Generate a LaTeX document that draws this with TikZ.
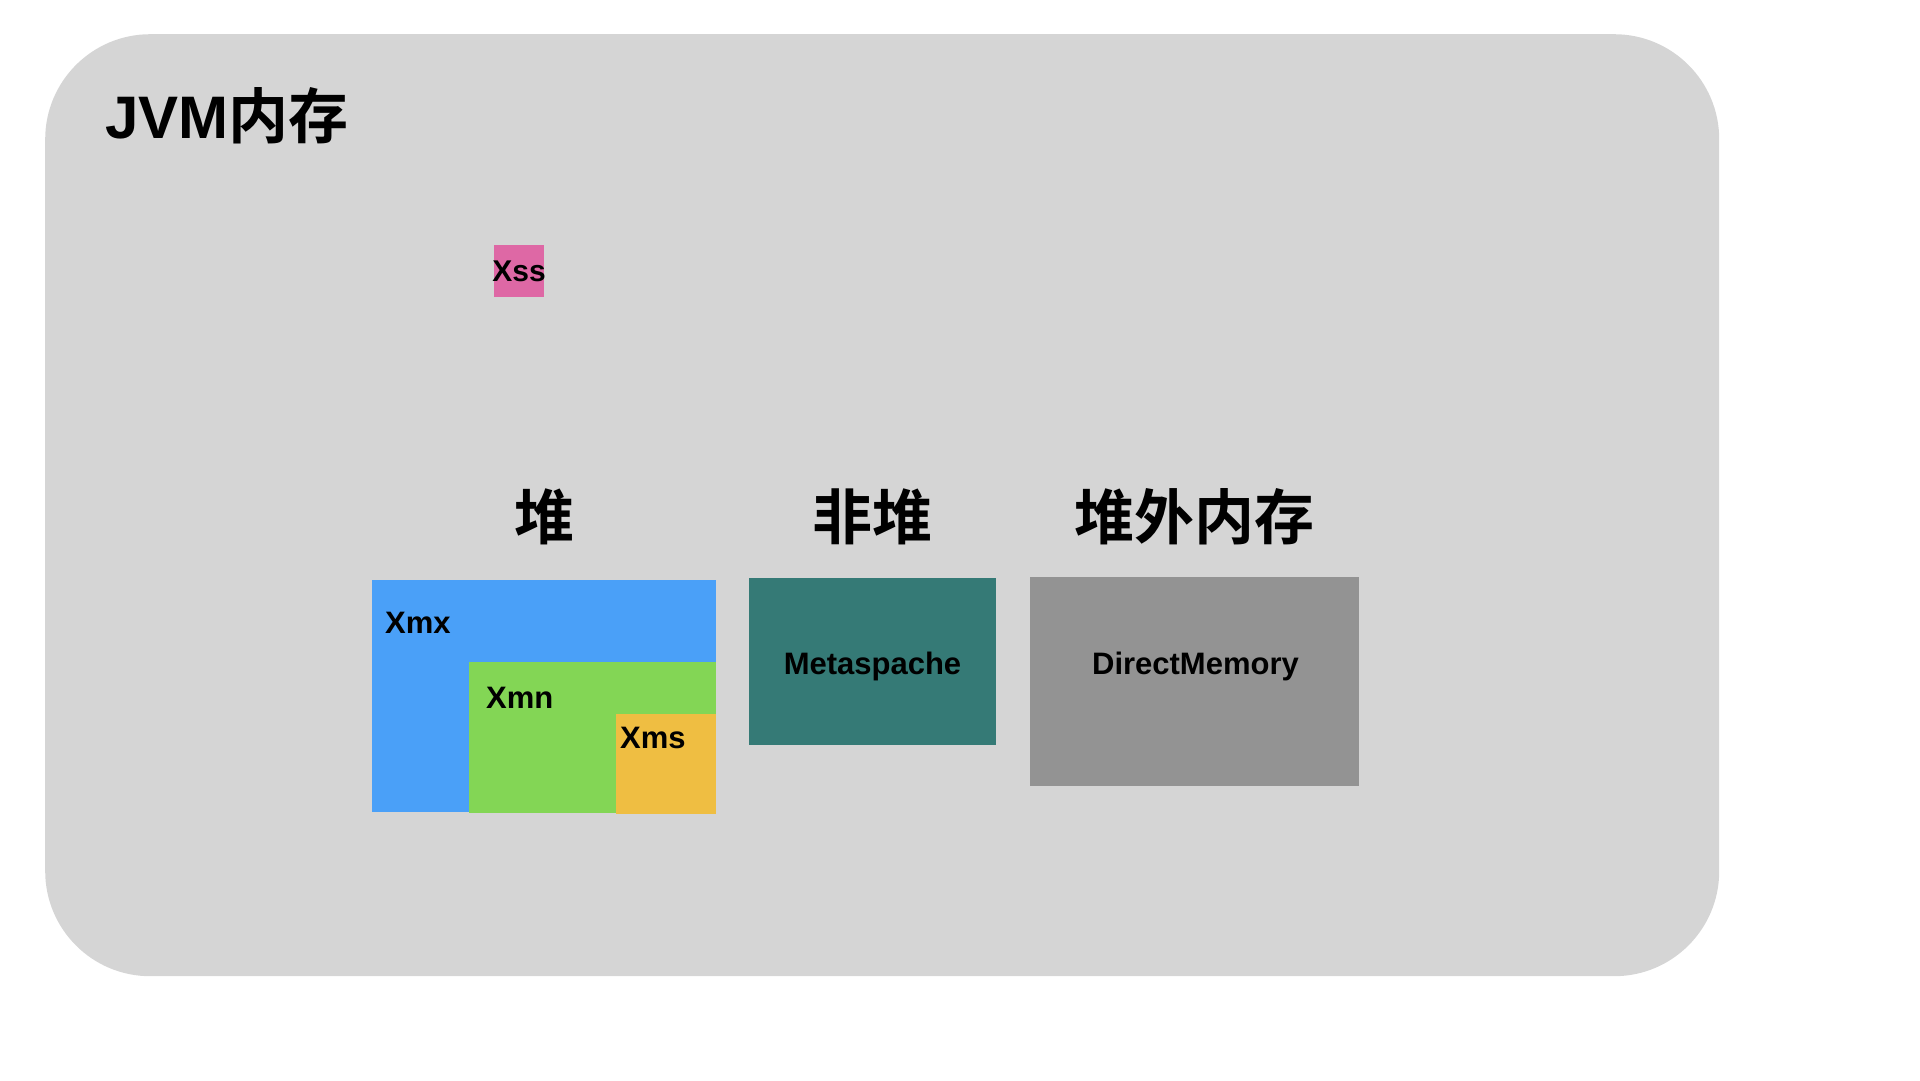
\documentclass[tikz,border=0pt]{standalone}
\usepackage{fontspec}
\setmainfont{Liberation Sans}
\newfontfamily\cjk{Noto Sans CJK SC}[BoldFont={Noto Sans CJK SC Bold}]
\usepackage{xcolor}
\definecolor{cPanel}{HTML}{D5D5D5}
\definecolor{cXss}{HTML}{DE68A5}
\definecolor{cXmx}{HTML}{4AA0F8}
\definecolor{cXmn}{HTML}{83D655}
\definecolor{cXms}{HTML}{EFBE42}
\definecolor{cMeta}{HTML}{357A76}
\definecolor{cDirect}{HTML}{939393}
\usepackage{tikz}
\usetikzlibrary{positioning}
\tikzset{
  node-panel/.style={fill=cPanel,rounded corners=105pt,inner sep=0pt,anchor=north west},
  node-mem/.style={inner sep=0pt,outer sep=0pt,anchor=north west},
  node-text/.style={inner sep=0pt,font=\fontsize{31}{36}\selectfont\bfseries},
  node-head/.style={inner sep=0pt,font=\fontsize{60}{68}\selectfont\bfseries\cjk},
}
\begin{document}
\begin{tikzpicture}[x=1pt,y=-1pt]
  \useasboundingbox (0,0) rectangle (1920,1080);
  \node[node-panel,minimum width=1674pt,minimum height=942pt] (jvm) at (45,34) {};
  \node[node-head,anchor=base west] (title) at (105,138)
    {\fontspec{Liberation Sans}\bfseries JVM\cjk 内存};
  % 栈
  \node[node-mem,fill=cXss,minimum width=50pt,minimum height=52pt] (xss) at (494,245) {};
  \node[node-text,font=\fontsize{30}{34}\selectfont\bfseries] (xss-t) at (xss.center) {Xss};
  % 堆
  \node[node-mem,fill=cXmx,minimum width=344pt,minimum height=232pt] (xmx) at (372,580) {};
  \node[node-mem,fill=cXmn,minimum width=247pt,minimum height=151pt] (xmn) at (469,662) {};
  \node[node-mem,fill=cXms,minimum width=100pt,minimum height=100pt] (xms) at (616,714) {};
  \node[node-text,anchor=base west] (xmx-t) at (385,633) {Xmx};
  \node[node-text,anchor=base west] (xmn-t) at (486,708) {Xmn};
  \node[node-text,anchor=base west] (xms-t) at (620,748) {Xms};
  % 非堆 / 堆外内存
  \node[node-mem,fill=cMeta,minimum width=247pt,minimum height=167pt] (meta) at (749,578) {};
  \node[node-mem,fill=cDirect,minimum width=329pt,minimum height=209pt] (direct) at (1030,577) {};
  \node[node-text,anchor=base] (meta-t) at (872.5,674) {Metaspache};
  \node[node-text,anchor=base] (direct-t) at (1195.5,674) {DirectMemory};
  \node[node-head,above=35pt of xmx] (heap) {堆};
  \node[node-head,above=33pt of meta] (nonheap) {非堆};
  \node[node-head,above=32pt of direct] (offheap) {堆外内存};
\end{tikzpicture}
\end{document}
